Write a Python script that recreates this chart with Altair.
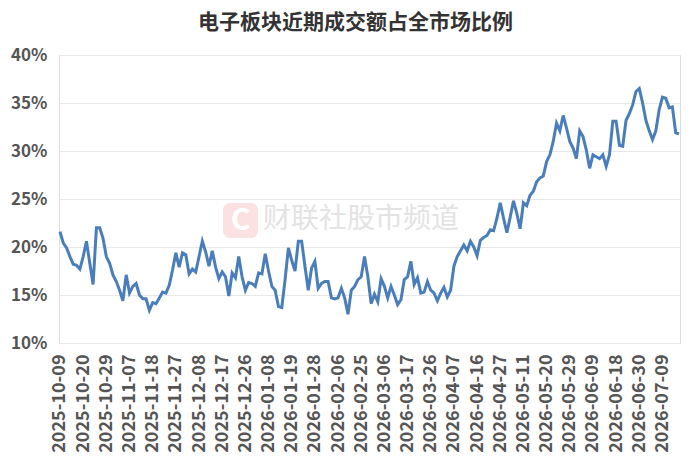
import json
import altair as alt
import pandas as pd

title_text = "电子板块近期成交额占全市场比例"
watermark_text = "财联社股市频道"

tick_labels = [
    "2025-10-09", "2025-10-20", "2025-10-29", "2025-11-07", "2025-11-18", "2025-11-27",
    "2025-12-08", "2025-12-17", "2025-12-26", "2026-01-08", "2026-01-19", "2026-01-28",
    "2026-02-06", "2026-02-25", "2026-03-06", "2026-03-17", "2026-03-26", "2026-04-07",
    "2026-04-16", "2026-04-27", "2026-05-11", "2026-05-20", "2026-05-29", "2026-06-09",
    "2026-06-18", "2026-06-30", "2026-07-09",
]

holidays = [
    "2026-01-01", "2026-01-02", "2026-02-16", "2026-02-17", "2026-02-18", "2026-02-19",
    "2026-02-20", "2026-02-23", "2026-04-06", "2026-05-01", "2026-05-04", "2026-05-05",
    "2026-06-19",
]

share = [
    21.6, 20.4, 19.9, 19.0, 18.2, 18.1, 17.7, 19.0, 20.6, 18.3,
    16.1, 22.0, 22.0, 20.9, 19.0, 18.3, 17.1, 16.4, 15.5, 14.4,
    17.1, 15.2, 15.9, 16.2, 15.0, 14.6, 14.6, 13.4, 14.2, 14.1,
    14.7, 15.3, 15.2, 16.0, 17.6, 19.4, 17.9, 19.4, 19.2, 17.2,
    17.7, 17.4, 19.0, 20.6, 19.5, 18.0, 19.6, 17.9, 16.7, 17.4,
    16.9, 14.9, 17.3, 16.8, 19.0, 16.9, 15.5, 16.3, 16.2, 15.9,
    17.3, 17.2, 19.3, 17.5, 15.9, 15.5, 13.8, 13.7, 16.6, 19.9,
    18.6, 17.5, 20.6, 20.6, 18.0, 15.5, 17.8, 18.5, 15.7, 16.2,
    16.4, 16.4, 14.7, 14.6, 14.7, 15.7, 14.7, 13.0, 15.5, 15.9,
    16.6, 16.9, 19.0, 16.9, 14.1, 15.1, 14.3, 16.7, 15.9, 14.7,
    15.9, 15.0, 14.0, 14.5, 16.6, 16.9, 18.5, 16.1, 16.8, 15.2,
    15.3, 16.4, 15.5, 15.2, 14.4, 15.2, 15.8, 14.8, 15.5, 18.0,
    19.0, 19.6, 20.2, 19.6, 20.6, 20.0, 19.1, 20.7, 21.0, 21.2,
    21.8, 21.7, 23.0, 24.6, 23.0, 21.5, 23.1, 24.8, 23.5, 21.9,
    24.6, 24.3, 25.4, 25.8, 26.8, 27.2, 27.4, 28.9, 29.6, 31.0,
    32.9, 32.1, 33.7, 32.4, 31.0, 30.3, 29.2, 32.1, 31.5, 30.1,
    28.2, 29.6, 29.4, 29.2, 29.6, 28.4, 29.6, 33.1, 33.1, 30.6,
    30.5, 33.2, 33.9, 34.8, 36.2, 36.5, 35.0, 33.2, 32.1, 31.2,
    32.1, 34.3, 35.6, 35.5, 34.5, 34.6, 31.9, 31.8,
]

# trading calendar (weekdays without exchange holidays)
dates = [d.strftime("%Y-%m-%d") for d in pd.bdate_range("2025-10-09", "2026-09-30")]
dates = [d for d in dates if d not in holidays][: len(share)]

df = pd.DataFrame({"i": list(range(len(share))), "date": dates, "share": share})
tick_idx = [dates.index(t) for t in tick_labels if t in dates]
label_expr = json.dumps(dates, ensure_ascii=False) + "[datum.value]"

FONT = "Noto Sans CJK SC"
PLOT_W, PLOT_H = 621, 288

line = alt.Chart(df).mark_line(color="#4a7ebb", strokeWidth=3).encode(
    x=alt.X(
        "i:Q",
        scale=alt.Scale(domain=[-0.3, len(share) - 0.7], nice=False, zero=False),
        axis=alt.Axis(
            title=None, values=tick_idx, labelExpr=label_expr, labelAngle=-90,
            labelAlign="right", labelBaseline="middle", grid=False, ticks=False,
            domain=False, labelPadding=11, labelFontSize=18, labelFont=FONT,
            labelFontWeight="bold", labelColor="#555555", labelOverlap=False,
            labelBound=False, labelFlush=False,
        ),
    ),
    y=alt.Y(
        "share:Q",
        scale=alt.Scale(domain=[10, 40], nice=False, zero=False),
        axis=alt.Axis(
            title=None, values=[10, 15, 20, 25, 30, 35, 40],
            labelExpr="datum.value + '%'", grid=True, gridColor="#e8e8e8",
            gridWidth=1, ticks=False, domain=False, labelPadding=12,
            labelFontSize=17, labelFont=FONT, labelFontWeight="bold",
            labelColor="#555555",
        ),
    ),
)

wm = pd.DataFrame({"t": [watermark_text]})
logo = alt.Chart(wm).mark_rect(color="#fbe1e1", cornerRadius=7).encode(
    x=alt.value(223 - 59), x2=alt.value(258 - 59),
    y=alt.value(203 - 55), y2=alt.value(238 - 55),
)
logo_c = alt.Chart(wm).mark_text(
    text="C", color="#ffffff", fontSize=30, font=FONT, fontWeight="bold",
    align="center", baseline="middle",
).encode(x=alt.value(240.5 - 59), y=alt.value(221 - 55))
wm_text = alt.Chart(wm).mark_text(
    color="#e3e3e3", fontSize=28, font=FONT, align="left", baseline="middle",
).encode(x=alt.value(263 - 59), y=alt.value(220 - 55), text="t:N")

chart = alt.layer(logo, logo_c, wm_text, line).properties(
    width=PLOT_W,
    height=PLOT_H,
    padding={"left": 51, "top": 47, "right": 4, "bottom": 122},
    autosize=alt.AutoSizeParams(type="none"),
    title=alt.TitleParams(
        title_text, anchor="middle", fontSize=21, font=FONT, fontWeight="bold",
        color="#333333", offset=13, dx=-14,
    ),
).configure_view(stroke=None).configure(background="#ffffff")

chart.save("out.html", embed_options={"renderer": "svg", "actions": False})
